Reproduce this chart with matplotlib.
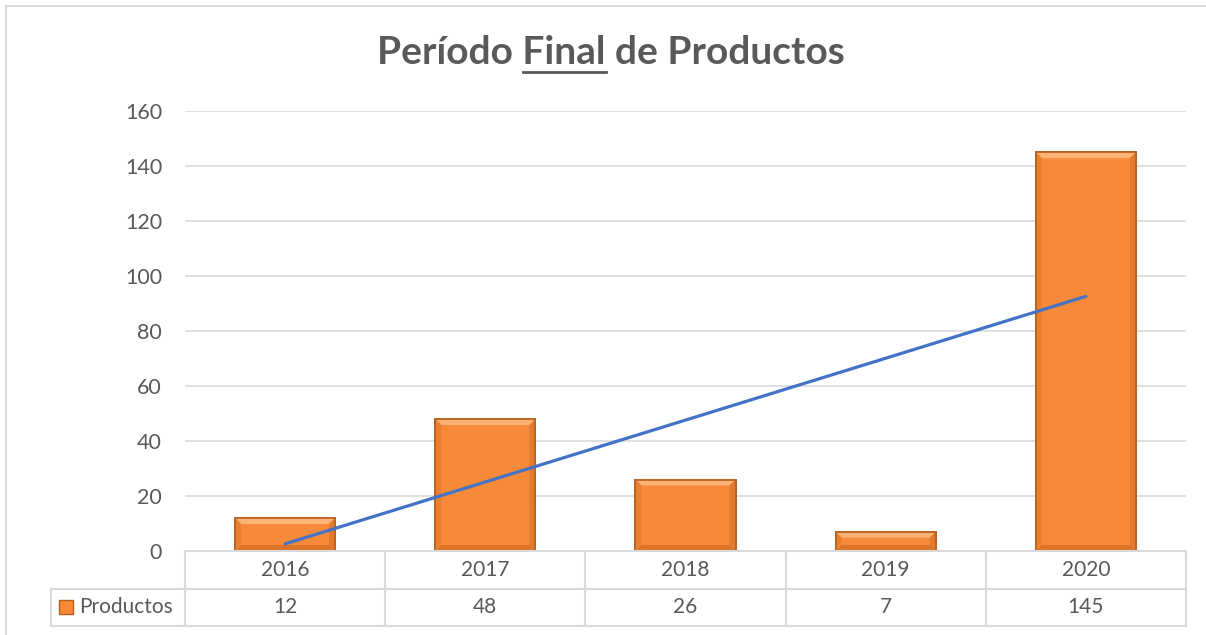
import numpy as np
import matplotlib
matplotlib.use('Agg')
import matplotlib.pyplot as plt
from matplotlib.patches import Rectangle, Polygon

# data
years = ['2016', '2017', '2018', '2019', '2020']
productos = [12, 48, 26, 7, 145]
yticks = [0, 20, 40, 60, 80, 100, 120, 140, 160]

plt.rcParams['font.family'] = ['Lato', 'DejaVu Sans']
gray_txt = '#595959'
grid_col = '#D9D9D9'
bar_col = '#F68A39'
edge_col = '#B85F1E'
trend_col = '#4472C4'

W, H = 1206, 635
fig = plt.figure(figsize=(W / 100, H / 100), dpi=100)
fig.patch.set_facecolor('white')

# plot area in pixels
left, right, top, bottom = 185, 1186, 111, 551
ax = fig.add_axes([left / W, 1 - bottom / H, (right - left) / W, (bottom - top) / H])
ax.set_xlim(-0.5, len(years) - 0.5)
ax.set_ylim(0, 160)

x = np.arange(len(years))
bw = 0.5
bars = ax.bar(x, productos, width=bw, color=bar_col, edgecolor=edge_col, linewidth=1.2, zorder=3)

# bevel look on the bars (pixel sized edges)
px_x = (len(years)) / (right - left)
px_y = 160 / (bottom - top)
bvx, bvy = 6 * px_x, 6 * px_y
for xi, v in zip(x, productos):
    x0, x1 = xi - bw / 2, xi + bw / 2
    sides = [
        ([(x0, v), (x1, v), (x1 - bvx, v - bvy), (x0 + bvx, v - bvy)], '#FBB273'),
        ([(x0, 0), (x1, 0), (x1 - bvx, bvy), (x0 + bvx, bvy)], '#DE7428'),
        ([(x0, 0), (x0, v), (x0 + bvx, v - bvy), (x0 + bvx, bvy)], '#E97F30'),
        ([(x1, 0), (x1, v), (x1 - bvx, v - bvy), (x1 - bvx, bvy)], '#E37A2D'),
    ]
    for pts, c in sides:
        ax.add_patch(Polygon(pts, closed=True, facecolor=c, edgecolor='none', zorder=3.5))
    ax.add_patch(Rectangle((x0, 0), bw, v, facecolor='none', edgecolor=edge_col, lw=1.2, zorder=3.6))

# linear trendline
k, b = np.polyfit(x, productos, 1)
ax.plot([x[0], x[-1]], [k * x[0] + b, k * x[-1] + b], color=trend_col, lw=2.3,
        solid_capstyle='round', zorder=4)

ax.set_yticks(yticks)
ax.set_yticklabels([str(v) for v in yticks])
ax.tick_params(axis='y', length=0, pad=16.5, labelsize=15.5, labelcolor=gray_txt)
ax.set_xticks([])
ax.grid(axis='y', color=grid_col, lw=1.2, zorder=0)
for s in ax.spines.values():
    s.set_visible(False)

# data table below the axis
row_h = 37.5 / (bottom - top)
trans = ax.get_xaxis_transform()
xl = -0.5 - (left - 51) / ((right - left) / len(years))
n = len(years)
lkw = dict(color=grid_col, lw=1.5, transform=trans, clip_on=False, zorder=5)
ax.plot([-0.5, n - 0.5], [0, 0], **lkw)
ax.plot([xl, n - 0.5], [-row_h, -row_h], **lkw)
ax.plot([xl, n - 0.5], [-2 * row_h, -2 * row_h], **lkw)
ax.plot([xl, xl], [-row_h, -2 * row_h], **lkw)
for i in range(n + 1):
    ax.plot([i - 0.5, i - 0.5], [0, -2 * row_h], **lkw)
for i in range(n):
    ax.text(i, -0.5 * row_h, years[i], ha='center', va='center', fontsize=15,
            color=gray_txt, transform=trans)
    ax.text(i, -1.5 * row_h, str(productos[i]), ha='center', va='center', fontsize=15,
            color=gray_txt, transform=trans)

# legend key in the table
ax.add_patch(Rectangle((xl + 0.04, -1.5 * row_h - 0.016), 0.07, 0.032, transform=trans,
                       facecolor=bar_col, edgecolor=edge_col, lw=1, clip_on=False, zorder=6))
ax.text(xl + 0.14, -1.5 * row_h, 'Productos', ha='left', va='center', fontsize=15,
        color=gray_txt, transform=trans)

# outer chart border (left and top visible)
fig.add_artist(plt.Line2D([6 / W, 6 / W], [0, 1 - 6 / H], color=grid_col, lw=1.5))
fig.add_artist(plt.Line2D([6 / W, 1], [1 - 6 / H, 1 - 6 / H], color=grid_col, lw=1.5))

# title with "Final" underlined
parts = ['Período ', 'Final', ' de Productos']
tkw = dict(fontsize=28, fontweight='bold', color=gray_txt)
r = fig.canvas.get_renderer()
widths = []
for p in parts:
    t = fig.text(0, 0, p.replace(' ', '\u00a0'), **tkw)
    widths.append(t.get_window_extent(r).width)
    t.remove()
full = fig.text(611 / W, 1 - 53 / H, ''.join(parts), ha='center', va='center', **tkw)
bb = full.get_window_extent(r)
x0 = bb.x0 + widths[0]
x1 = x0 + widths[1]
yline = 1 - 72 / H
fig.add_artist(plt.Line2D([x0 / W, x1 / W], [yline, yline], color=gray_txt, lw=2))

fig.savefig('out.png', dpi=100)
